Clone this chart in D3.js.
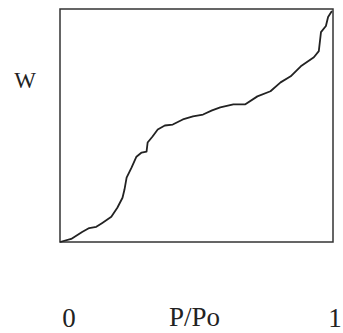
<!DOCTYPE html>
<html>
<head>
<meta charset="utf-8">
<script src="https://cdn.jsdelivr.net/npm/d3@7"></script>
<style>
  body { margin: 0; background: #fff; }
  text { font-family: "Liberation Serif", "DejaVu Serif", serif; fill: #222; }
</style>
</head>
<body>
<svg id="chart"></svg>
<script>
// isotherm (P/Po vs W, both scaled 0..1)
var pp = [0, 0.041, 0.081, 0.107, 0.133, 0.155, 0.188, 0.210, 0.229, 0.236, 0.244, 0.262, 0.280, 0.299,
  0.317, 0.321, 0.339, 0.358, 0.384, 0.413, 0.450, 0.487, 0.524, 0.557, 0.587, 0.635, 0.679, 0.723,
  0.771, 0.808, 0.845, 0.882, 0.930, 0.948, 0.956, 0.974, 0.982, 0.996]
var w = [0, 0.013, 0.043, 0.060, 0.065, 0.082, 0.108, 0.147, 0.190, 0.224, 0.276, 0.319, 0.366, 0.384,
  0.388, 0.427, 0.453, 0.483, 0.500, 0.504, 0.526, 0.539, 0.547, 0.565, 0.578, 0.591, 0.591, 0.625,
  0.647, 0.685, 0.711, 0.754, 0.793, 0.819, 0.901, 0.927, 0.966, 0.991]
var xTicks = [0, 1]
var xLabel = "P/Po"
var yLabel = "W"

var svgWidth = 343
var svgHeight = 333
var margin = {top: 9, right: 10, bottom: 91, left: 60}

var svg = d3.select("#chart")
    .attr("width", svgWidth)
    .attr("height", svgHeight)

var data = pp.map(function(d, i) { return {x: d, y: w[i]} })

var xScale = d3.scaleLinear().domain([0, 1]).range([margin.left, svgWidth - margin.right])
var yScale = d3.scaleLinear().domain([0, 1]).range([svgHeight - margin.bottom, margin.top])

// frame
svg.append("rect")
    .attr("x", xScale(0))
    .attr("y", yScale(1))
    .attr("width", xScale(1) - xScale(0))
    .attr("height", yScale(0) - yScale(1))
    .attr("fill", "none")
    .attr("stroke", "#333")
    .attr("stroke-width", 1.5)

var line = d3.line()
    .x(function(d) { return xScale(d.x) })
    .y(function(d) { return yScale(d.y) })

svg.append("path")
    .datum(data)
    .attr("d", line)
    .attr("fill", "none")
    .attr("stroke", "#222")
    .attr("stroke-width", 1.8)
    .attr("stroke-linejoin", "round")

// tick labels under the plot ("1" nudged in so it stays on the page)
svg.selectAll("text.tick")
    .data(xTicks)
    .enter()
    .append("text")
    .attr("class", "tick")
    .attr("x", function(d) { return xScale(d) + (d == 0 ? 9 : 2) })
    .attr("y", 327)
    .attr("text-anchor", "middle")
    .style("font-size", "27px")
    .text(function(d) { return d })

svg.append("text")
    .attr("x", xScale(0.5) - 2)
    .attr("y", 326)
    .attr("text-anchor", "middle")
    .style("font-size", "27px")
    .text(xLabel)

svg.append("text")
    .attr("x", 25)
    .attr("y", 88)
    .attr("text-anchor", "middle")
    .style("font-size", "23px")
    .text(yLabel)
</script>
</body>
</html>
